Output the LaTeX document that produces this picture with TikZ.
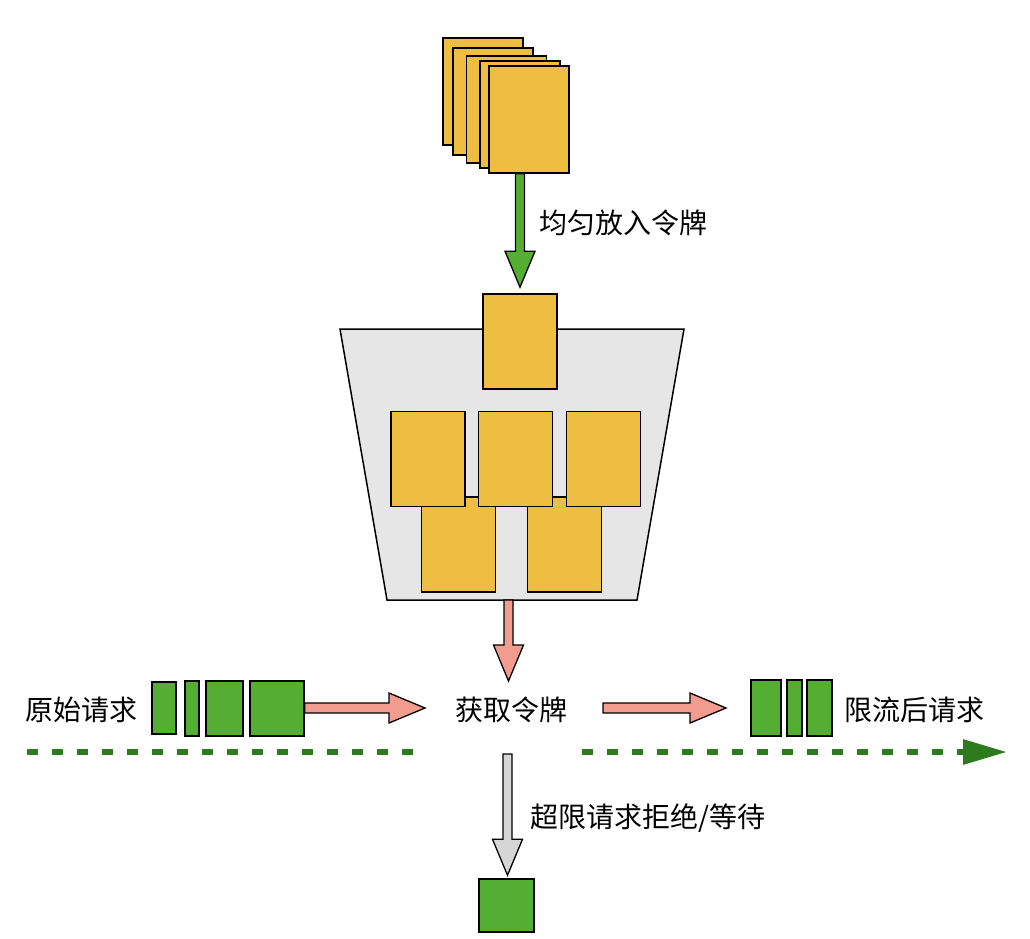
\documentclass[tikz,border=0pt]{standalone}
\usepackage{fontspec}
\newfontfamily\cjk{Noto Sans CJK SC}
\usetikzlibrary{calc,arrows.meta}
\definecolor{tokY}{RGB}{238,190,65}
\definecolor{reqG}{RGB}{84,174,50}
\definecolor{pinkA}{RGB}{242,156,143}
\definecolor{buckG}{RGB}{230,230,230}
\definecolor{grayA}{RGB}{214,214,214}
\definecolor{dashG}{RGB}{46,122,30}
\tikzset{
  token/.style={draw=black,fill=tokY,line width=1.5pt,inner sep=0pt,minimum width=74pt,minimum height=95pt},
  card/.style={draw=black,fill=tokY,line width=1.5pt,inner sep=0pt,minimum width=80pt,minimum height=107pt},
  req/.style={draw=black,fill=reqG,line width=1.5pt,inner sep=0pt},
  lbl/.style={font=\cjk\fontsize{28}{32}\selectfont,inner sep=0pt},
  fat/.style={draw=black,line width=1.3pt,line join=miter},
  flow/.style={draw=dashG,line width=6pt,dash pattern=on 11pt off 14pt}
}
% vertical fat arrow: #1 start, #2 tip, #3 style
\newcommand\fatvert[3]{%
  \path[fat,#3] ($(#1)+(-4.5,0)$) -- ($(#2)+(-4.5,-36)$) -- ($(#2)+(-15,-36)$) -- (#2)
    -- ($(#2)+(15,-36)$) -- ($(#2)+(4.5,-36)$) -- ($(#1)+(4.5,0)$) -- cycle;}
% horizontal fat arrow
\newcommand\fathorz[3]{%
  \path[fat,#3] ($(#1)+(0,-5)$) -- ($(#2)+(-36,-5)$) -- ($(#2)+(-36,-15)$) -- (#2)
    -- ($(#2)+(-36,15)$) -- ($(#2)+(-36,5)$) -- ($(#1)+(0,5)$) -- cycle;}
\begin{document}
\begin{tikzpicture}[x=1pt,y=-1pt]
\useasboundingbox (0,0) rectangle (1030,938);
% top stack of tokens
\node[card] (c1) at (483,91.5) {};
\node[card] (c2) at (493,101.5) {};
\node[card] (c3) at (506.5,109.5) {};
\node[card] (c4) at (520,114.5) {};
\node[card] (c5) at (529,119.5) {};
% bucket
\coordinate (bTL) at (340,329);
\coordinate (bTR) at (684,329);
\coordinate (bBR) at (637,600);
\coordinate (bBL) at (387,600);
\draw[fill=buckG,draw=black,line width=1.5pt] (bTL) -- (bTR) -- (bBR) -- (bBL) -- cycle;
\node[token] (t0) at (520,341.5) {};
\node[token] (t4) at (458.5,544.5) {};
\node[token] (t5) at (564.5,544.5) {};
\node[token] (t1) at (428,459) {};
\node[token] (t2) at (515.5,459) {};
\node[token] (t3) at (603.5,459) {};
% green arrow into bucket
\coordinate (gA) at (t0.north |- c5.south);
\coordinate (gB) at ($(t0.north)+(0,-6)$);
\fatvert{gA}{gB}{fill=reqG}
\node[lbl] (put) at (623.5,223) {均匀放入令牌};
% get token
\node[lbl] (get) at (511,710) {获取令牌};
\coordinate (pA) at (508.5,600);
\coordinate (pB) at (508.5,681);
\fatvert{pA}{pB}{fill=pinkA}
% left: original requests
\node[lbl] (orig) at (81,710) {原始请求};
\node[req,minimum width=24pt,minimum height=52pt] (r1) at (164,708) {};
\node[req,minimum width=14pt,minimum height=55pt] (r2) at (192,708.5) {};
\node[req,minimum width=37pt,minimum height=55pt] (r3) at (224.5,708.5) {};
\node[req,minimum width=54pt,minimum height=55pt] (r4) at (277,708.5) {};
\coordinate (lA) at (r4.east |- 0,708);
\coordinate (lB) at (425,708);
\fathorz{lA}{lB}{fill=pinkA}
% right: limited requests
\coordinate (rA) at (603,708);
\coordinate (rB) at (726,708);
\fathorz{rA}{rB}{fill=pinkA}
\node[req,minimum width=30pt,minimum height=56pt] (s1) at (766,708) {};
\node[req,minimum width=15pt,minimum height=56pt] (s2) at (794.5,708) {};
\node[req,minimum width=25pt,minimum height=56pt] (s3) at (819.5,708) {};
\node[lbl] (lim) at (914,710) {限流后请求};
% dashed flows
\coordinate (d1) at (27,752);
\coordinate (d2) at (415,752);
\coordinate (d3) at (582,752);
\coordinate (d4) at (1007,752);
\draw[flow] (d1) -- (d2);
\draw[flow,-{Triangle[length=44pt,width=24pt]}] (d3) -- (d4);
% rejected
\node[req,minimum width=55pt,minimum height=53pt] (rej) at (506.5,905.5) {};
\coordinate (gyA) at (507.5,754);
\coordinate (gyB) at ($(rej.north)+(1,-3)$);
\fatvert{gyA}{gyB}{fill=grayA}
\node[lbl] (rejl) at (648,818) {超限请求拒绝/等待};
\end{tikzpicture}
\end{document}
